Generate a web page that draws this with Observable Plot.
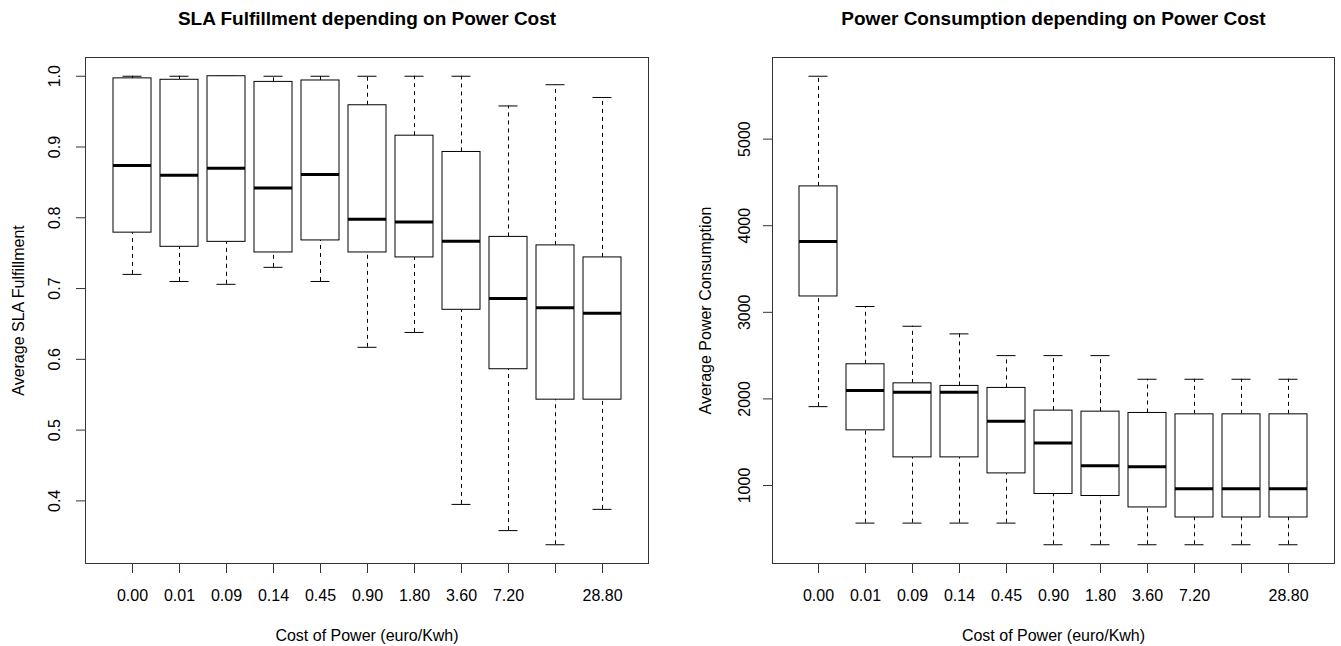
<!DOCTYPE html>
<html>
<head>
<meta charset="utf-8">
<script src="https://cdn.jsdelivr.net/npm/d3@7"></script>
<script src="https://cdn.jsdelivr.net/npm/@observablehq/plot@0.6"></script>
<style>
  html, body { margin: 0; padding: 0; background: #fff; }
  #wrap { display: flex; flex-direction: row; width: 1341px; height: 646px; }
  #wrap svg { display: block; }
</style>
</head>
<body>
<div id="wrap"><div id="left"></div><div id="right"></div></div>
<script>
// ---- data ----
const costs = ["0.00","0.01","0.09","0.14","0.45","0.90","1.80","3.60","7.20","14.40","28.80"];
const xTickLabels = ["0.00","0.01","0.09","0.14","0.45","0.90","1.80","3.60","7.20","","28.80"];

const slaMin    = [0.720, 0.710, 0.706, 0.730, 0.710, 0.617, 0.638, 0.395, 0.358, 0.338, 0.388];
const slaQ1     = [0.779, 0.759, 0.766, 0.751, 0.768, 0.751, 0.744, 0.670, 0.586, 0.543, 0.543];
const slaMedian = [0.874, 0.860, 0.870, 0.842, 0.861, 0.798, 0.794, 0.767, 0.686, 0.673, 0.665];
const slaQ3     = [0.997, 0.995, 1.000, 0.992, 0.994, 0.959, 0.916, 0.893, 0.773, 0.761, 0.744];
const slaMax    = [1.000, 1.000, 1.000, 1.000, 1.000, 1.000, 1.000, 1.000, 0.958, 0.988, 0.970];
const slaTicks  = [0.4, 0.5, 0.6, 0.7, 0.8, 0.9, 1.0];

const powMin    = [1911, 566, 566, 566, 566, 316, 316, 316, 316, 316, 316];
const powQ1     = [3183, 1637, 1325, 1325, 1140, 902, 879, 747, 631, 631, 631];
const powMedian = [3818, 2096, 2077, 2077, 1741, 1491, 1229, 1217, 963, 963, 963];
const powQ3     = [4454, 2400, 2180, 2150, 2127, 1865, 1853, 1838, 1822, 1822, 1822];
const powMax    = [5726, 3067, 2839, 2751, 2500, 2500, 2500, 2227, 2227, 2227, 2227];
const powTicks  = [1000, 2000, 3000, 4000, 5000];

const titles = ["SLA Fulfillment depending on Power Cost", "Power Consumption depending on Power Cost"];
const yTitles = ["Average SLA Fulfillment", "Average Power Consumption"];
const xTitle = "Cost of Power (euro/Kwh)";

// ---- helpers ----
const FONT = "'Liberation Sans', Arial, Helvetica, sans-serif";
const labelFor = new Map(costs.map((c, i) => [c, xTickLabels[i]]));

function table(mn, q1, med, q3, mx) {
  return costs.map((c, i) => ({cost: c, min: mn[i], q1: q1[i], median: med[i], q3: q3[i], max: mx[i]}));
}
function rDomain(mn, mx) {
  const lo = d3.min(mn), hi = d3.max(mx), r = hi - lo;
  return [lo - 0.04 * r, hi + 0.04 * r];
}

function boxplot({data, domain, ticks, tickFmt, title, yTitle, width, mLeft, mRight, yLabelPad}) {
  const mTop = 57, mBottom = 83;
  return Plot.plot({
    width, height: 646,
    marginLeft: mLeft, marginRight: mRight, marginTop: mTop, marginBottom: mBottom,
    style: {fontFamily: FONT, fontSize: "16px", color: "#000", background: "#fff"},
    x: {type: "band", domain: costs, paddingInner: 0.2, paddingOuter: 0.54, align: 0.5, axis: null},
    y: {domain, axis: null},
    marks: [
      Plot.ruleX(data, {x: "cost", y1: "q3", y2: "max", stroke: "#000", strokeDasharray: "4,4"}),
      Plot.ruleX(data, {x: "cost", y1: "min", y2: "q1", stroke: "#000", strokeDasharray: "4,4"}),
      Plot.tickY(data, {x: "cost", y: "max", stroke: "#000", insetLeft: 9.5, insetRight: 9.5}),
      Plot.tickY(data, {x: "cost", y: "min", stroke: "#000", insetLeft: 9.5, insetRight: 9.5}),
      Plot.barY(data, {x: "cost", y1: "q1", y2: "q3", fill: "#fff", stroke: "#000", strokeWidth: 1}),
      Plot.tickY(data, {x: "cost", y: "median", stroke: "#000", strokeWidth: 3}),
      Plot.frame({stroke: "#333", strokeWidth: 1}),
      Plot.axisX({anchor: "bottom", tickSize: 10, tickPadding: 16, fontSize: 16,
                  tickFormat: d => labelFor.get(d), label: null, stroke: "#333"}),
      Plot.axisY({anchor: "left", ticks, tickSize: 9, tickPadding: yLabelPad, tickRotate: -90,
                  fontSize: 16, tickFormat: tickFmt, label: null, stroke: "#333"}),
      Plot.text([title], {frameAnchor: "top", dy: -39, lineAnchor: "middle", textAnchor: "middle",
                          fontSize: 19, fontWeight: "bold", fill: "#000"}),
      Plot.text([xTitle], {frameAnchor: "bottom", dy: 72, lineAnchor: "middle", textAnchor: "middle",
                           fontSize: 16, fill: "#000"}),
      Plot.text([yTitle], {frameAnchor: "left", dx: -67, rotate: -90, lineAnchor: "middle", textAnchor: "middle",
                           fontSize: 16, fill: "#000"})
    ]
  });
}

document.getElementById("left").append(boxplot({
  data: table(slaMin, slaQ1, slaMedian, slaQ3, slaMax),
  domain: rDomain(slaMin, slaMax),
  ticks: slaTicks, tickFmt: d3.format(".1f"),
  title: titles[0], yTitle: yTitles[0],
  width: 670, mLeft: 85, mRight: 22, yLabelPad: 17
}));

document.getElementById("right").append(boxplot({
  data: table(powMin, powQ1, powMedian, powQ3, powMax),
  domain: rDomain(powMin, powMax),
  ticks: powTicks, tickFmt: d3.format("d"),
  title: titles[1], yTitle: yTitles[1],
  width: 671, mLeft: 102, mRight: 7, yLabelPad: 14
}));
</script>
</body>
</html>
